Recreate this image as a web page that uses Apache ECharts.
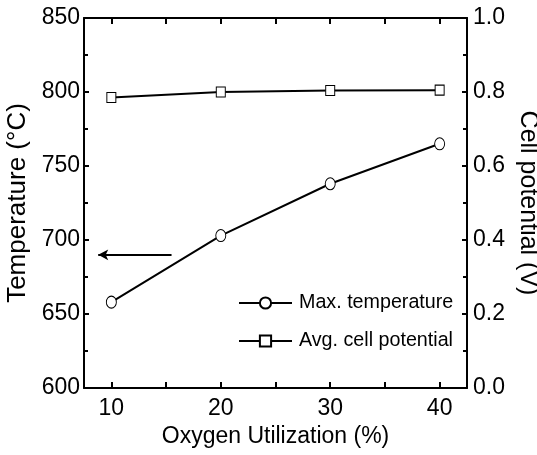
<!DOCTYPE html>
<html>
<head>
<meta charset="utf-8">
<script src="https://cdn.jsdelivr.net/npm/echarts@6/dist/echarts.min.js"></script>
<style>
  html, body { margin: 0; padding: 0; background: #fff; }
</style>
</head>
<body>
<div id="myChart" style="width: 537px; height: 455px;"></div>
<script>
// data
var utilization = [10, 20, 30, 40];
var maxTemperature = [658, 703, 738, 765];
var avgCellPotential = [0.785, 0.80, 0.804, 0.805];
var xLabelValues = [10, 20, 30, 40];
var xTickValues = [10, 15, 20, 25, 30, 35, 40];
var arrowFrom = [15.5, 690];
var arrowTo = [8.8, 690];

var font = "'Liberation Sans', Arial, sans-serif";

function pairs(xs, ys) {
  return xs.map(function (x, i) { return [x, ys[i]]; });
}

var myChart = echarts.init(document.getElementById('myChart'));
myChart.setOption({
  animation: false,
  backgroundColor: '#fff',
  grid: { left: 84, right: 70, top: 18, bottom: 67, outerBoundsMode: 'none', containLabel: false },
  legend: {
    left: 238,
    top: 292,
    padding: 0,
    orient: 'vertical',
    itemWidth: 53,
    itemHeight: 14,
    itemGap: 16,
    textStyle: { fontFamily: font, fontSize: 19.7, color: '#000', lineHeight: 22, padding: [0, 0, 0, 2] },
    data: ['Max. temperature', 'Avg. cell potential']
  },
  xAxis: [{
    type: 'value',
    min: 7.5,
    max: 42.5,
    name: 'Oxygen Utilization (%)',
    nameLocation: 'middle',
    nameGap: 36,
    nameTextStyle: { fontFamily: font, fontSize: 23, color: '#000' },
    axisLine: { lineStyle: { color: '#000', width: 2 } },
    axisTick: { inside: true, length: 6, lineStyle: { color: '#000', width: 2 }, customValues: xTickValues },
    axisLabel: { fontFamily: font, fontSize: 23, color: '#000', margin: 9, customValues: xLabelValues },
    splitLine: { show: false }
  }, {
    type: 'value',
    position: 'top',
    min: 7.5,
    max: 42.5,
    axisLine: { show: true, onZero: false, lineStyle: { color: '#000', width: 2 } },
    axisTick: { show: true, inside: true, length: 6, lineStyle: { color: '#000', width: 2 }, customValues: xTickValues },
    axisLabel: { show: false },
    splitLine: { show: false }
  }],
  yAxis: [{
    type: 'value',
    min: 600,
    max: 850,
    interval: 50,
    position: 'left',
    name: 'Temperature (\u00B0C)',
    nameLocation: 'middle',
    nameRotate: 90,
    nameGap: 50,
    nameTextStyle: { fontFamily: font, fontSize: 26, color: '#000' },
    axisLine: { show: true, onZero: false, lineStyle: { color: '#000', width: 2 } },
    axisTick: { show: true, inside: true, length: 5, lineStyle: { color: '#000', width: 2 } },
    minorTick: { show: true, splitNumber: 2, length: 4, lineStyle: { color: '#000', width: 2 } },
    axisLabel: { fontFamily: font, fontSize: 23, color: '#000', margin: 4 },
    splitLine: { show: false }
  }, {
    type: 'value',
    min: 0,
    max: 1,
    interval: 0.2,
    position: 'right',
    name: 'Cell potential (V)',
    nameLocation: 'middle',
    nameRotate: -90,
    nameGap: 43,
    nameTextStyle: { fontFamily: font, fontSize: 25, color: '#000' },
    axisLine: { show: true, onZero: false, lineStyle: { color: '#000', width: 2 } },
    axisTick: { show: true, inside: true, length: 5, lineStyle: { color: '#000', width: 2 } },
    minorTick: { show: true, splitNumber: 2, length: 4, lineStyle: { color: '#000', width: 2 } },
    axisLabel: { fontFamily: font, fontSize: 23, color: '#000', margin: 6, formatter: function (v) { return v.toFixed(1); } },
    splitLine: { show: false }
  }],
  series: [{
    name: 'Max. temperature',
    type: 'line',
    yAxisIndex: 0,
    data: pairs(utilization, maxTemperature),
    symbol: 'circle',
    symbolSize: [10, 12],
    lineStyle: { color: '#000', width: 2 },
    itemStyle: { color: '#fff', borderColor: '#000', borderWidth: 1 },
    markLine: {
      silent: true,
      symbol: ['none', 'arrow'],
      symbolSize: [8, 10],
      label: { show: false },
      lineStyle: { color: '#000', width: 2, type: 'solid' },
      data: [[{ coord: arrowFrom }, { coord: arrowTo }]]
    }
  }, {
    name: 'Avg. cell potential',
    type: 'line',
    yAxisIndex: 1,
    data: pairs(utilization, avgCellPotential),
    symbol: 'rect',
    symbolSize: [9, 10],
    lineStyle: { color: '#000', width: 2 },
    itemStyle: { color: '#fff', borderColor: '#000', borderWidth: 1 }
  }]
});
</script>
</body>
</html>
